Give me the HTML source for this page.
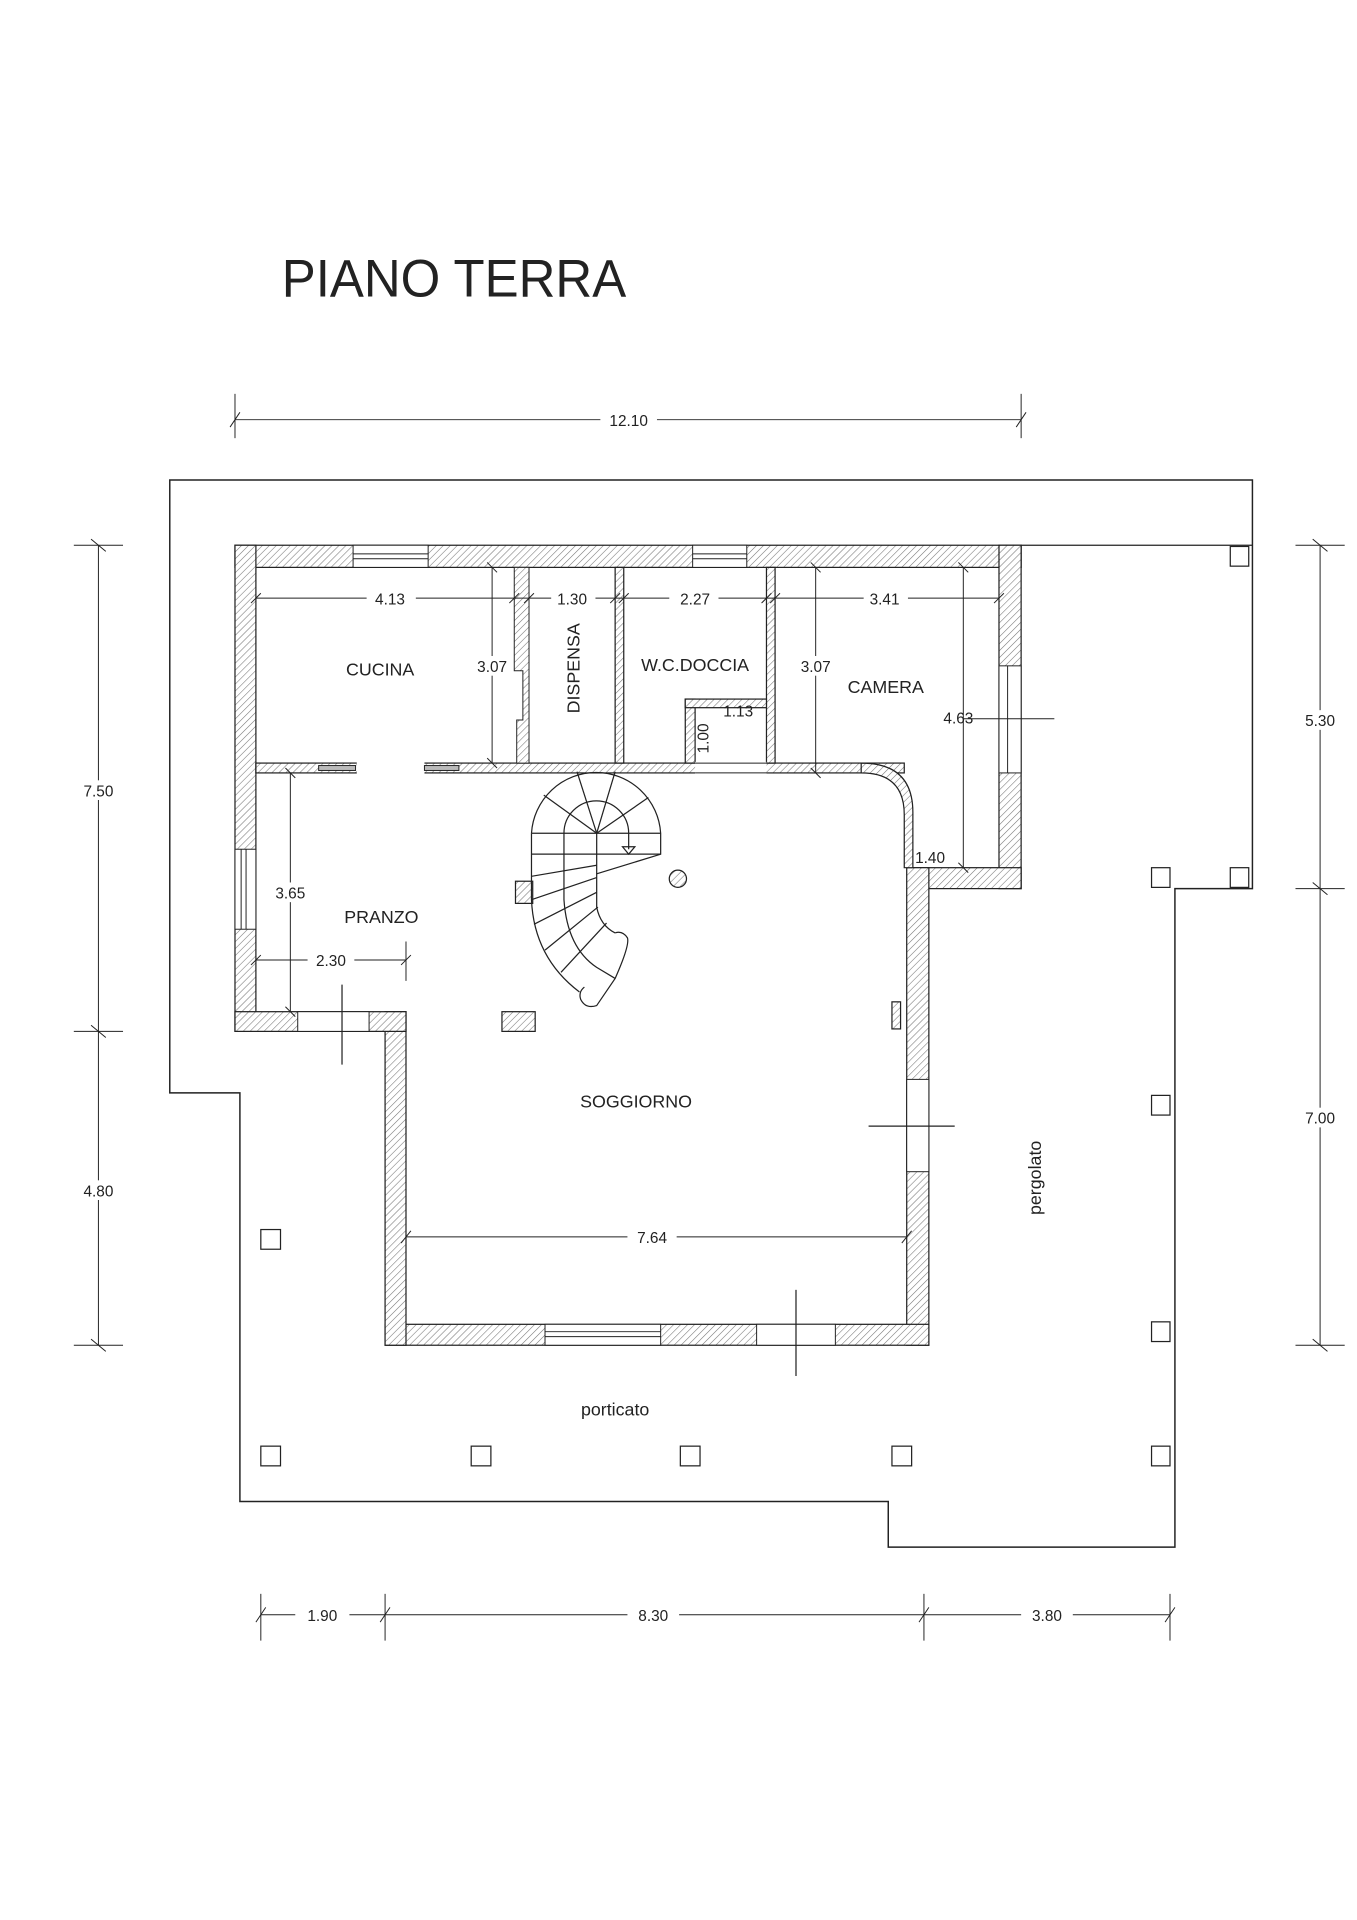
<!DOCTYPE html>
<html><head><meta charset="utf-8"><style>
html,body{margin:0;padding:0;background:#fff}
svg{display:block}
text{font-family:"Liberation Sans",sans-serif;fill:#222}
</style></head><body>
<svg width="1357" height="1920" viewBox="0 0 1103 1560" preserveAspectRatio="none" xmlns="http://www.w3.org/2000/svg">
<defs>
<pattern id="h" patternUnits="userSpaceOnUse" width="4" height="4" patternTransform="rotate(45)">
<rect width="4" height="4" fill="#fff"/><line x1="0" y1="0" x2="0" y2="4" stroke="#777" stroke-width="0.9"/>
</pattern>
</defs>
<g stroke="#222" stroke-width="1" fill="none">
<!-- title -->
<text x="229" y="241" font-size="43" textLength="280" lengthAdjust="spacingAndGlyphs" stroke="none" style="font-weight:normal">PIANO TERRA</text>

<!-- terrace outline -->
<path d="M195,888 L138,888 L138,390 L1018,390 L1018,722 L955,722 L955,1257 L722,1257 L722,1220 L195,1220 Z" stroke-width="1.2"/>
<line x1="830" y1="443" x2="1018" y2="443"/>

<!-- walls -->
<g fill="url(#h)" stroke="#222">
<rect x="191" y="443" width="639" height="18"/>
<rect x="191" y="443" width="17" height="395"/>
<rect x="812" y="443" width="18" height="279"/>
<rect x="742" y="705" width="88" height="17"/>
<rect x="737" y="705" width="18" height="388"/>
<rect x="313" y="1076" width="442" height="17"/>
<rect x="313" y="822" width="17" height="271"/>
<rect x="191" y="822" width="139" height="16"/>
<rect x="208" y="620" width="527" height="8"/>
<path d="M700,620 Q742,620 742,660 L742,705 L735,705 L735,662 Q735,628 700,628 Z"/>
<path d="M418,461 L430,461 L430,620 L420,620 L420,585 L425,585 L425,545 L418,545 Z" stroke-width="0.8"/>
<rect x="500" y="461" width="7" height="159"/>
<rect x="623" y="461" width="7" height="159"/>
<rect x="557" y="568" width="8" height="52"/>
<rect x="557" y="568" width="66" height="7"/>
<rect x="408" y="822" width="27" height="16"/>
<rect x="419" y="716" width="14" height="18"/>
<rect x="725" y="814" width="7" height="22"/>
<circle cx="551" cy="714" r="7"/>
</g>
<!-- openings (white) -->
<g fill="#fff" stroke="#222" stroke-width="0.8">
<rect x="287" y="443" width="61" height="18"/><line x1="287" y1="450" x2="348" y2="450"/><line x1="287" y1="454" x2="348" y2="454"/>
<rect x="563" y="443" width="44" height="18"/><line x1="563" y1="450" x2="607" y2="450"/><line x1="563" y1="454" x2="607" y2="454"/>
<rect x="812" y="541" width="18" height="87"/><line x1="819" y1="541" x2="819" y2="628"/>
<rect x="191" y="690" width="17" height="65"/><line x1="196" y1="690" x2="196" y2="755"/><line x1="200" y1="690" x2="200" y2="755"/>
<rect x="737" y="877" width="18" height="75"/>
<rect x="443" y="1076" width="94" height="17"/><line x1="443" y1="1082" x2="537" y2="1082"/><line x1="443" y1="1086" x2="537" y2="1086"/>
<rect x="615" y="1076" width="64" height="17"/>
<rect x="242" y="822" width="58" height="16"/>
<rect x="290" y="619" width="55" height="10" stroke="none"/>
<rect x="565" y="619" width="58" height="10" stroke="none"/>
<line x1="565" y1="620" x2="623" y2="620"/><line x1="565" y1="628" x2="623" y2="628"/>
<rect x="259" y="622" width="30" height="4" fill="#bbb"/>
<rect x="345" y="622" width="28" height="4" fill="#bbb"/>
</g>
<!-- cross markers -->
<line x1="278" y1="800" x2="278" y2="865"/>
<line x1="706" y1="915" x2="776" y2="915"/>
<line x1="647" y1="1048" x2="647" y2="1118"/>

<!-- stair -->
<g stroke-width="1">
<path d="M432,677 A52.6,52.6 0 0 1 537,677 L537,694 L485,710"/>
<path d="M432,677 L432,731 Q434,778 471,806"/>
<path d="M458.4,677 A26.3,26.3 0 0 1 511,677 L511,690"/>
<path d="M506,688 L511,694 L516,688 Z"/>
<path d="M458.4,677 L458.4,731 Q461,770 485,786 L500,795"/>
<path d="M485,677 L485,737 Q488,752 500,758"/>
<line x1="432" y1="677" x2="537" y2="677"/>
<line x1="432" y1="694" x2="537" y2="694"/>
<line x1="485" y1="677" x2="442" y2="646"/><line x1="485" y1="677" x2="469" y2="627"/>
<line x1="485" y1="677" x2="500" y2="627"/><line x1="485" y1="677" x2="527" y2="648"/>
<line x1="432" y1="712" x2="485" y2="703"/>
<line x1="432" y1="731" x2="485" y2="713"/>
<line x1="434" y1="751" x2="485" y2="725"/>
<line x1="443" y1="772" x2="486" y2="737"/>
<line x1="456" y1="790" x2="493" y2="750"/>
<path d="M500,758 Q506,756 510,762 Q512,768 500,795 L485,817 Q476,820 472,812 Q470,806 475,802"/>
</g>

<!-- columns -->
<g fill="#fff">
<rect x="1000" y="444" width="15" height="16"/>
<rect x="936" y="705" width="15" height="16"/>
<rect x="1000" y="705" width="15" height="16"/>
<rect x="936" y="890" width="15" height="16"/>
<rect x="936" y="1074" width="15" height="16"/>
<rect x="212" y="999" width="16" height="16"/>
<rect x="212" y="1175" width="16" height="16"/>
<rect x="383" y="1175" width="16" height="16"/>
<rect x="553" y="1175" width="16" height="16"/>
<rect x="725" y="1175" width="16" height="16"/>
<rect x="936" y="1175" width="15" height="16"/>
</g>

<!-- dimensions -->
<g stroke-width="0.8">
<line x1="191" y1="341" x2="830" y2="341"/>
<line x1="191" y1="320" x2="191" y2="356"/><line x1="830" y1="320" x2="830" y2="356"/>
<line x1="187" y1="347" x2="195" y2="335"/><line x1="826" y1="347" x2="834" y2="335"/>
<line x1="80" y1="443" x2="80" y2="1093"/>
<line x1="60" y1="443" x2="100" y2="443"/><line x1="60" y1="838" x2="100" y2="838"/><line x1="60" y1="1093" x2="100" y2="1093"/>
<line x1="74" y1="438" x2="86" y2="448"/><line x1="74" y1="833" x2="86" y2="843"/><line x1="74" y1="1088" x2="86" y2="1098"/>
<line x1="1073" y1="443" x2="1073" y2="1093"/>
<line x1="1053" y1="443" x2="1093" y2="443"/><line x1="1053" y1="722" x2="1093" y2="722"/><line x1="1053" y1="1093" x2="1093" y2="1093"/>
<line x1="1067" y1="438" x2="1079" y2="448"/><line x1="1067" y1="717" x2="1079" y2="727"/><line x1="1067" y1="1088" x2="1079" y2="1098"/>
<line x1="212" y1="1312" x2="951" y2="1312"/>
<line x1="212" y1="1295" x2="212" y2="1333"/><line x1="313" y1="1295" x2="313" y2="1333"/><line x1="751" y1="1295" x2="751" y2="1333"/><line x1="951" y1="1295" x2="951" y2="1333"/>
<line x1="208" y1="1318" x2="216" y2="1306"/><line x1="309" y1="1318" x2="317" y2="1306"/><line x1="747" y1="1318" x2="755" y2="1306"/><line x1="947" y1="1318" x2="955" y2="1306"/>
<!-- interior -->
<line x1="208" y1="486" x2="812" y2="486"/>
<line x1="204" y1="490" x2="212" y2="482"/><line x1="414" y1="490" x2="422" y2="482"/><line x1="426" y1="490" x2="434" y2="482"/>
<line x1="496" y1="490" x2="504" y2="482"/><line x1="503" y1="490" x2="511" y2="482"/><line x1="619" y1="490" x2="627" y2="482"/><line x1="626" y1="490" x2="634" y2="482"/><line x1="808" y1="490" x2="816" y2="482"/>
<line x1="400" y1="461" x2="400" y2="620"/><line x1="396" y1="457" x2="404" y2="465"/><line x1="396" y1="616" x2="404" y2="624"/>
<line x1="663" y1="461" x2="663" y2="628"/><line x1="659" y1="457" x2="667" y2="465"/><line x1="659" y1="624" x2="667" y2="632"/>
<line x1="783" y1="461" x2="783" y2="705"/><line x1="779" y1="457" x2="787" y2="465"/><line x1="779" y1="701" x2="787" y2="709"/>
<line x1="783" y1="584" x2="857" y2="584"/>
<line x1="236" y1="628" x2="236" y2="822"/><line x1="232" y1="624" x2="240" y2="632"/><line x1="232" y1="818" x2="240" y2="826"/>
<line x1="208" y1="780" x2="330" y2="780"/><line x1="204" y1="784" x2="212" y2="776"/><line x1="326" y1="784" x2="334" y2="776"/>
<line x1="330" y1="765" x2="330" y2="797"/>
<line x1="330" y1="1005" x2="737" y2="1005"/><line x1="326" y1="1010" x2="334" y2="1000"/><line x1="733" y1="1010" x2="741" y2="1000"/>
</g>
</g>

<!-- labels -->
<g font-size="12.5" text-anchor="middle">
<text x="511" y="346" stroke="none" fill="#fff" style="fill:#fff"> </text>
<rect x="488" y="334" width="46" height="14" fill="#fff"/><text x="511" y="346">12.10</text>
<rect x="66" y="634" width="28" height="16" fill="#fff"/><text x="80" y="647">7.50</text>
<rect x="66" y="959" width="28" height="16" fill="#fff"/><text x="80" y="972">4.80</text>
<rect x="1059" y="577" width="28" height="16" fill="#fff"/><text x="1073" y="590">5.30</text>
<rect x="1059" y="900" width="28" height="16" fill="#fff"/><text x="1073" y="913">7.00</text>
<rect x="240" y="1305" width="44" height="14" fill="#fff"/><text x="262" y="1317">1.90</text>
<rect x="510" y="1305" width="42" height="14" fill="#fff"/><text x="531" y="1317">8.30</text>
<rect x="830" y="1305" width="42" height="14" fill="#fff"/><text x="851" y="1317">3.80</text>
<rect x="298" y="479" width="40" height="14" fill="#fff"/><text x="317" y="491">4.13</text>
<rect x="448" y="479" width="36" height="14" fill="#fff"/><text x="465" y="491">1.30</text>
<rect x="544" y="479" width="40" height="14" fill="#fff"/><text x="565" y="491">2.27</text>
<rect x="702" y="479" width="36" height="14" fill="#fff"/><text x="719" y="491">3.41</text>
<rect x="386" y="533" width="28" height="16" fill="#fff"/><text x="400" y="546">3.07</text>
<rect x="649" y="533" width="28" height="16" fill="#fff"/><text x="663" y="546">3.07</text>
<text x="779" y="588">4.63</text>
<text x="756" y="701">1.40</text>
<text x="600" y="582">1.13</text>
<text transform="translate(576,600) rotate(-90)">1.00</text>
<rect x="222" y="717" width="28" height="16" fill="#fff"/><text x="236" y="730">3.65</text>
<rect x="250" y="773" width="38" height="14" fill="#fff"/><text x="269" y="785">2.30</text>
<rect x="510" y="998" width="40" height="14" fill="#fff"/><text x="530" y="1010">7.64</text>
</g>
<g font-size="14.5" text-anchor="middle">
<text x="309" y="549">CUCINA</text>
<text transform="translate(471,543) rotate(-90)">DISPENSA</text>
<text x="565" y="545">W.C.DOCCIA</text>
<text x="720" y="563">CAMERA</text>
<text x="310" y="750">PRANZO</text>
<text x="517" y="900">SOGGIORNO</text>
<text x="500" y="1150">porticato</text>
<text transform="translate(846,957) rotate(-90)">pergolato</text>
</g>
</svg>
</body></html>
